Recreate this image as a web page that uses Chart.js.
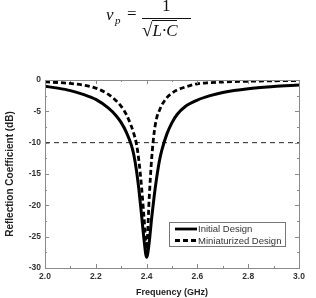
<!DOCTYPE html>
<html>
<head>
<meta charset="utf-8">
<script src="https://cdn.jsdelivr.net/npm/chart.js@4.4.1/dist/chart.umd.min.js"></script>
<style>
  html, body { margin: 0; padding: 0; background: #fff; }
  #wrap { position: relative; width: 316px; height: 298px; overflow: hidden; }
  #formula {
    position: absolute; left: 106px; top: 0px;
    font-family: "Liberation Serif", "DejaVu Serif", serif; font-size: 17px; color: #111;
    white-space: nowrap;
  }
  #formula .v { position: absolute; left: 0; top: 5px; font-style: italic; }
  #formula .sub { position: absolute; left: 9px; top: 14px; font-size: 11px; font-style: italic; }
  #formula .eq { position: absolute; left: 21px; top: 4px; }
  #formula .num { position: absolute; left: 56px; top: -4px; }
  #formula .bar { position: absolute; left: 36px; top: 18px; width: 49px; height: 0; border-top: 1px solid #111; }
  #formula .den { position: absolute; left: 36px; top: 19px; }
  #formula .den .rad { font-size: 19px; }
  #formula .den .arg { font-style: italic; border-top: 1px solid #111; }
  canvas { position: absolute; left: 0; top: 0; }
</style>
</head>
<body>
<div id="wrap">
  <canvas id="chart" width="316" height="298"></canvas>
  <div id="formula">
    <span class="v">v</span><span class="sub">p</span>
    <span class="eq">=</span>
    <span class="num">1</span>
    <span class="bar"></span>
    <span class="den"><span class="rad">√</span><span class="arg">L·C</span></span>
  </div>
</div>
<script>
const freq = [2.0, 2.05, 2.1, 2.15, 2.2, 2.25, 2.28, 2.3, 2.32, 2.34, 2.35, 2.36, 2.37, 2.38, 2.39,
  2.4, 2.41, 2.42, 2.43, 2.44, 2.45, 2.46, 2.48, 2.5, 2.52, 2.55, 2.6, 2.65, 2.7, 2.8, 2.9, 3.0];
const initialDesign = [-1.0, -1.3, -1.7, -2.3, -3.1, -4.5, -5.7, -6.8, -8.3, -10.4, -12.0, -14.4, -17.6, -21.5, -25.5,
  -28.3, -26.0, -22.0, -18.5, -15.5, -13.0, -11.2, -8.6, -6.8, -5.5, -4.3, -3.2, -2.5, -2.0, -1.4, -1.05, -0.8];
const miniaturizedDesign = [-0.3, -0.4, -0.55, -0.8, -1.3, -2.3, -3.3, -4.2, -5.5, -7.4, -8.6, -10.2, -13.0, -17.0, -22.0,
  -27.0, -19.0, -12.5, -8.3, -6.0, -4.9, -4.0, -2.8, -2.1, -1.6, -1.15, -0.6, -0.42, -0.32, -0.2, -0.12, -0.08];
const refFreq = [2.0, 3.0];
const refLevel = [-10, -10];
const xTicks = [2.0, 2.2, 2.4, 2.6, 2.8, 3.0];
const yTicks = [0, -5, -10, -15, -20, -25, -30];

const pts = (xs, ys) => xs.map((x, i) => ({ x: x, y: ys[i] }));
const labelFont = { family: 'Liberation Sans, Arial, sans-serif', size: 8.5, weight: 'bold' };
const titleFont = { family: 'Liberation Sans, Arial, sans-serif', size: 9, weight: 'bold' };

// inward ticks, frame and legend box
const framePlugin = {
  id: 'frame',
  afterDraw(chart) {
    const { ctx, chartArea: a, scales } = chart;
    ctx.save();
    ctx.strokeStyle = '#8a8a8a';
    ctx.lineWidth = 1;
    ctx.strokeRect(a.left + 0.5, a.top + 0.5, a.right - a.left, a.bottom - a.top);
    ctx.beginPath();
    for (let i = 0; i <= 10; i++) {
      const px = Math.round(scales.x.getPixelForValue(2.0 + i * 0.1)) + 0.5;
      const len = i % 2 === 0 ? 4 : 2;
      ctx.moveTo(px, a.bottom); ctx.lineTo(px, a.bottom - len);
      ctx.moveTo(px, a.top); ctx.lineTo(px, a.top + len);
    }
    for (let i = 0; i <= 12; i++) {
      const py = Math.round(scales.y.getPixelForValue(-2.5 * i)) + 0.5;
      const len = i % 2 === 0 ? 4 : 2;
      ctx.moveTo(a.left, py); ctx.lineTo(a.left + len, py);
      ctx.moveTo(a.right, py); ctx.lineTo(a.right - len, py);
    }
    ctx.stroke();

    const bx = 169.5, by = 222.5, bw = 116, bh = 24;
    ctx.strokeStyle = '#777';
    ctx.strokeRect(bx, by, bw, bh);
    ctx.font = '9.5px "Liberation Sans", Arial, sans-serif';
    ctx.fillStyle = '#333';
    ctx.textBaseline = 'middle';
    chart.data.datasets.slice(0, 2).forEach((ds, i) => {
      const y = by + 6.5 + i * 11.5;
      ctx.strokeStyle = '#000';
      ctx.lineWidth = 2.8;
      ctx.setLineDash(ds.borderDash || []);
      ctx.beginPath(); ctx.moveTo(175, y); ctx.lineTo(197, y); ctx.stroke();
      ctx.setLineDash([]);
      ctx.fillText(ds.label, 198, y + 0.5);
    });
    ctx.restore();
  }
};

new Chart(document.getElementById('chart'), {
  type: 'line',
  data: {
    datasets: [
      {
        label: 'Initial Design',
        data: pts(freq, initialDesign),
        borderColor: '#000',
        borderWidth: 3,
        pointRadius: 0,
        cubicInterpolationMode: 'monotone'
      },
      {
        label: 'Miniaturized Design',
        data: pts(freq, miniaturizedDesign),
        borderColor: '#000',
        borderWidth: 2.8,
        borderDash: [5, 3],
        pointRadius: 0,
        cubicInterpolationMode: 'monotone'
      },
      {
        label: '-10 dB',
        data: pts(refFreq, refLevel),
        borderColor: '#222',
        borderWidth: 1,
        borderDash: [5, 4],
        pointRadius: 0
      }
    ]
  },
  options: {
    responsive: false,
    animation: false,
    layout: { padding: { left: 0, top: 80, right: 17, bottom: 0 } },
    plugins: {
      legend: { display: false },
      tooltip: { enabled: false }
    },
    scales: {
      x: {
        type: 'linear',
        min: 2.0,
        max: 3.0,
        afterBuildTicks: (s) => { s.ticks = xTicks.map(v => ({ value: v })); },
        afterFit: (s) => { s.height = 30; },
        grid: { display: false, drawTicks: false },
        border: { display: false },
        ticks: {
          color: '#333', font: labelFont, padding: 4,
          callback: (v) => v.toFixed(1), maxRotation: 0
        },
        title: {
          display: true, text: 'Frequency (GHz)', color: '#222', font: titleFont,
          padding: { top: 5, bottom: 0 }
        }
      },
      y: {
        min: -30,
        max: 0,
        afterBuildTicks: (s) => { s.ticks = yTicks.map(v => ({ value: v })); },
        afterFit: (s) => { s.width = 45; },
        grid: { display: false, drawTicks: false },
        border: { display: false },
        ticks: { color: '#333', font: labelFont, padding: 4 },
        title: {
          display: true, text: 'Reflection Coefficient (dB)', color: '#222',
          font: { family: 'Liberation Sans, Arial, sans-serif', size: 10, weight: 'bold' },
          padding: { top: 4, bottom: 0 }
        }
      }
    }
  },
  plugins: [framePlugin]
});
</script>
</body>
</html>
